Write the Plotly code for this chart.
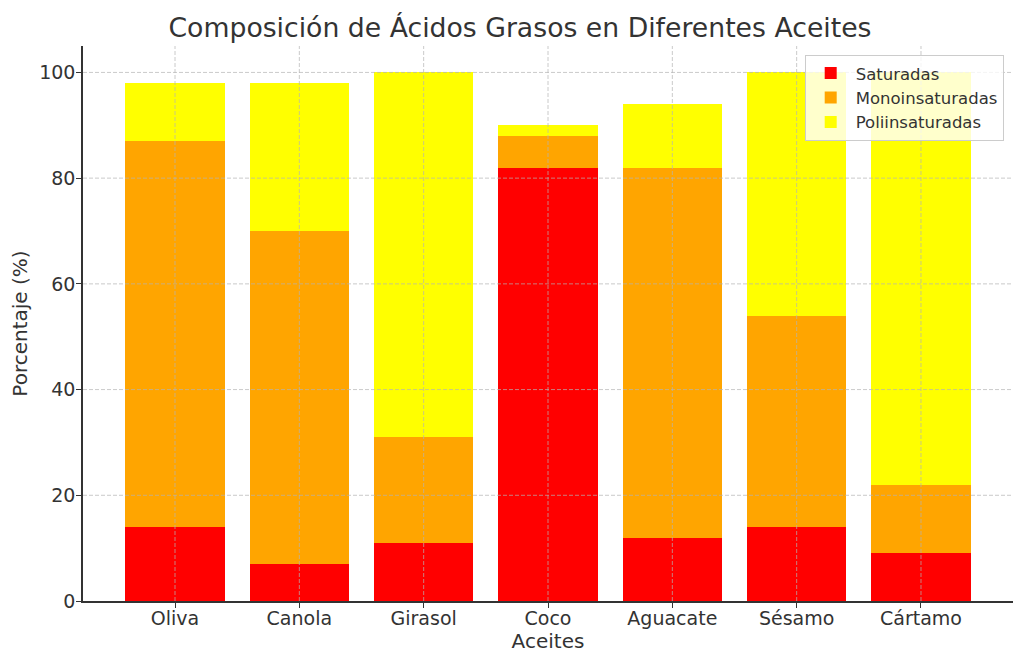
import plotly.graph_objects as go

aceites = ["Oliva", "Canola", "Girasol", "Coco", "Aguacate", "Sésamo", "Cártamo"]
saturadas = [14, 7, 11, 82, 12, 14, 9]
monoinsaturadas = [73, 63, 20, 6, 70, 40, 13]
poliinsaturadas = [11, 28, 69, 2, 12, 46, 78]
y_ticks = [0, 20, 40, 60, 80, 100]

colores = {"Saturadas": "#ff0000", "Monoinsaturadas": "#ffa500", "Poliinsaturadas": "#ffff00"}
TXT = "#333333"
GRID = "rgba(180,180,180,0.7)"

fig = go.Figure()
fig.add_trace(go.Bar(x=aceites, y=saturadas, name="Saturadas",
                     marker=dict(color=colores["Saturadas"], line=dict(width=0))))
fig.add_trace(go.Bar(x=aceites, y=monoinsaturadas, name="Monoinsaturadas",
                     marker=dict(color=colores["Monoinsaturadas"], line=dict(width=0))))
fig.add_trace(go.Bar(x=aceites, y=poliinsaturadas, name="Poliinsaturadas",
                     marker=dict(color=colores["Poliinsaturadas"], line=dict(width=0))))

# grid on top of the bars, like the original
for a in aceites:
    fig.add_shape(type="line", xref="x", yref="paper", x0=a, x1=a, y0=0, y1=1,
                  line=dict(color=GRID, width=1, dash="4px,2px"), layer="above")
for v in y_ticks[1:]:
    fig.add_shape(type="line", xref="paper", yref="y", x0=0, x1=1, y0=v, y1=v,
                  line=dict(color=GRID, width=1, dash="4px,2px"), layer="above")

# page has an 8px body margin, so margins are shifted by that
fig.update_layout(
    barmode="stack",
    bargap=0.2,
    width=1024, height=665,
    margin=dict(l=75, r=19, t=38, b=72),
    plot_bgcolor="white", paper_bgcolor="white",
    font=dict(family="DejaVu Sans", color=TXT, size=17),
    title=dict(text="Composición de Ácidos Grasos en Diferentes Aceites",
               x=0.5, xanchor="center", y=0.971, yanchor="middle",
               font=dict(size=26.7, color=TXT)),
    legend=dict(x=0.99, y=0.984, xanchor="right", yanchor="top",
                bgcolor="rgba(255,255,255,0.8)", bordercolor="#cccccc", borderwidth=1,
                font=dict(size=16.5, color=TXT), traceorder="normal", itemwidth=40),
    xaxis=dict(title=dict(text="Aceites", standoff=1, font=dict(size=20)), range=[-0.74, 6.74],
               automargin=False, tickfont=dict(size=19),
               ticklabelstandoff=-6,
               showline=True, linecolor=TXT, linewidth=1.5,
               ticks="outside", ticklen=5, tickcolor=TXT,
               showgrid=False),
    yaxis=dict(title=dict(text="Porcentaje (%)", standoff=6, font=dict(size=20)), range=[0, 105],
               tickvals=y_ticks, automargin=False, tickfont=dict(size=19),
               ticklabelstandoff=-3,
               showline=True, linecolor=TXT, linewidth=1.5,
               ticks="outside", ticklen=5, tickcolor=TXT,
               showgrid=False, zeroline=False),
)

fig.write_html("out.html")
